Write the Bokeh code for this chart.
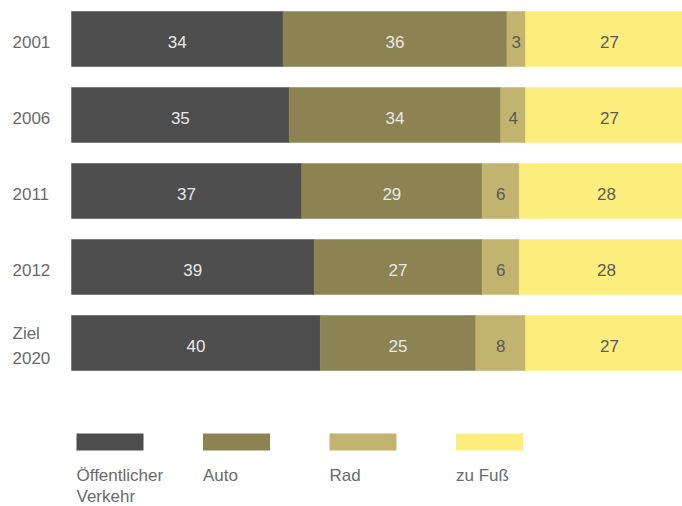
from bokeh.plotting import figure
from bokeh.models import Range1d
from bokeh.core.properties import value
from bokeh.embed import file_html
from bokeh.resources import INLINE

# ---- data ----
categories = ["2001", "2006", "2011", "2012", "Ziel\n2020"]
series_names = ["Öffentlicher\nVerkehr", "Auto", "Rad", "zu Fuß"]
oev = [34, 35, 37, 39, 40]
auto = [36, 34, 29, 27, 25]
rad = [3, 4, 6, 6, 8]
fuss = [27, 27, 28, 28, 27]
series_values = [oev, auto, rad, fuss]

# ---- styles ----
colors = ["#4d4d4d", "#8b8352", "#c2b46f", "#fcee7d"]
label_colors = ["#e8e8e8", "#e8e8e8", "#5a5a5a", "#5a5a5a"]
FONT = value("Liberation Sans")
FS = "17px"
TEXT_GRAY = "#6a6a6a"

# ---- layout (figure pixels -> data units) ----
W, H = 682, 506
X0, SX = 71.0, 6.22     # x of 0 %, px per %
Y0, SY = 38.5, 76.0     # y of first row centre, px per row
LINE = 24.0             # px between lines of a wrapped category label


def dx(px):
    return (px - X0) / SX


def dy(py):
    return (py - Y0) / SY


p = figure(width=W, height=H,
           x_range=Range1d(dx(0), dx(W)),
           y_range=Range1d(dy(H), dy(0)),
           output_backend="svg", toolbar_location=None,
           x_axis_location=None, y_axis_location=None,
           min_border=0)
p.grid.visible = False
p.outline_line_color = None
p.background_fill_color = "white"

rows = list(range(len(categories)))
left = [0.0] * len(categories)
for vals, col, lcol in zip(series_values, colors, label_colors):
    right = [l + v for l, v in zip(left, vals)]
    p.hbar(y=rows, left=left, right=right, height=55 / SY,
           fill_color=col, line_color=col, line_width=0.5)
    mids = [(l + r) / 2 for l, r in zip(left, right)]
    p.text(x=mids, y=rows, text=[str(v) for v in vals],
           text_align="center", text_baseline="middle", y_offset=2.5,
           text_font=FONT, text_font_size=FS, text_color=lcol)
    left = right

# category labels (wrapped lines stacked around the row centre)
cat_x, cat_y, cat_t = [], [], []
for r, cat in zip(rows, categories):
    lines = cat.split("\n")
    n = len(lines)
    for li, line in enumerate(lines):
        cat_x.append(dx(12))
        cat_y.append(r + (li - (n - 1) / 2) * LINE / SY)
        cat_t.append(line)
p.text(x=cat_x, y=cat_y, text=cat_t,
       text_align="left", text_baseline="middle", y_offset=2.5,
       text_font=FONT, text_font_size=FS, text_color=TEXT_GRAY)

# legend
for k, (name, col) in enumerate(zip(series_names, colors)):
    lx = 76 + 126.5 * k
    p.quad(left=[dx(lx)], right=[dx(lx + 67)], top=[dy(433)], bottom=[dy(450)],
           fill_color=col, line_color=None)
    for li, line in enumerate(name.split("\n")):
        p.text(x=[dx(lx)], y=[dy(472.5 + 21.5 * li)], text=[line],
               text_align="left", text_baseline="middle", y_offset=2,
               text_font=FONT, text_font_size=FS, text_color=TEXT_GRAY)

open("out.html", "w").write(file_html(p, INLINE))
